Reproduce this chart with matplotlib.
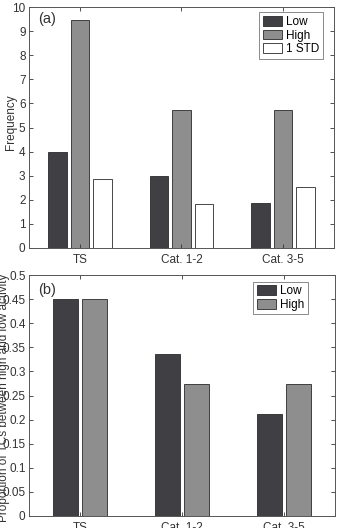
import numpy as np
import matplotlib.pyplot as plt
from matplotlib.ticker import FormatStrFormatter

plt.rcParams['font.family'] = ['Liberation Sans', 'DejaVu Sans']
plt.rcParams['font.size'] = 8.5

categories = ['TS', 'Cat. 1-2', 'Cat. 3-5']

# (a) frequency
freq_low = [4.0, 3.0, 1.88]
freq_high = [9.45, 5.72, 5.72]
freq_std = [2.86, 1.83, 2.55]

# (b) proportion
prop_low = [0.45, 0.336, 0.212]
prop_high = [0.45, 0.274, 0.274]

c_low = '#3f3f44'
c_high = '#8e8e8e'
c_edge = '#2a2a2a'

W, H = 338, 528
fig = plt.figure(figsize=(W / 100, H / 100), dpi=100)

def px_axes(x0, y0, x1, y1):
    return fig.add_axes([x0 / W, 1 - y1 / H, (x1 - x0) / W, (y1 - y0) / H])

def style(ax):
    ax.tick_params(direction='in', top=True, right=True, length=3, width=0.6,
                   colors='#333333', labelsize=8.5, pad=2.5)
    ax.tick_params(axis='x', pad=4)
    for s in ax.spines.values():
        s.set_linewidth(0.7)
        s.set_color('#555555')
    ax.set_xlim(0.5, 3.5)
    ax.set_xticks([1, 2, 3])
    ax.set_xticklabels(categories)

x = np.arange(1, 4)

# top panel
ax1 = px_axes(29, 7, 334, 248)
w = 0.183
d = 0.222
ax1.bar(x - d, freq_low, w, color=c_low, edgecolor=c_edge, linewidth=0.6, label='Low')
ax1.bar(x, freq_high, w, color=c_high, edgecolor=c_edge, linewidth=0.6, label='High')
ax1.bar(x + d, freq_std, w, color='white', edgecolor=c_edge, linewidth=0.6, label='1 STD')
ax1.set_ylim(0, 10)
ax1.set_yticks(np.arange(0, 11, 1))
style(ax1)
ax1.text(0.03, 0.98, '(a)', transform=ax1.transAxes, fontsize=10.5, va='top', ha='left', color='#333333')
leg1 = ax1.legend(loc='upper right', bbox_to_anchor=(0.964, 0.978), fancybox=False, edgecolor='#555555',
                  fontsize=8.5, handlelength=1.6, handleheight=0.9, borderpad=0.3, labelspacing=0.15,
                  handletextpad=0.4, borderaxespad=0)
leg1.get_frame().set_linewidth(0.6)
fig.text(11 / W, 1 - 122 / H, 'Frequency', rotation=90, ha='center', va='center', fontsize=8.5, color='#333333')

# bottom panel
ax2 = px_axes(29, 275, 335, 516)
w2 = 0.24
d2 = 0.143
ax2.bar(x - d2, prop_low, w2, color=c_low, edgecolor=c_edge, linewidth=0.6, label='Low')
ax2.bar(x + d2, prop_high, w2, color=c_high, edgecolor=c_edge, linewidth=0.6, label='High')
ax2.set_ylim(0, 0.5)
ax2.set_yticks(np.arange(0, 0.501, 0.05))
ax2.yaxis.set_major_formatter(FormatStrFormatter('%g'))
style(ax2)
ax2.text(0.03, 0.965, '(b)', transform=ax2.transAxes, fontsize=10.5, va='top', ha='left', color='#333333')
leg2 = ax2.legend(loc='upper right', bbox_to_anchor=(0.912, 0.973), fancybox=False, edgecolor='#555555',
                  fontsize=8.5, handlelength=1.6, handleheight=0.9, borderpad=0.3, labelspacing=0.15,
                  handletextpad=0.4, borderaxespad=0)
leg2.get_frame().set_linewidth(0.6)
fig.text(4 / W, 1 - 398 / H, 'Proportion of TCs between high and low activity', rotation=90,
         ha='center', va='center', fontsize=8.5, color='#333333')

fig.savefig('out.png', dpi=100)
